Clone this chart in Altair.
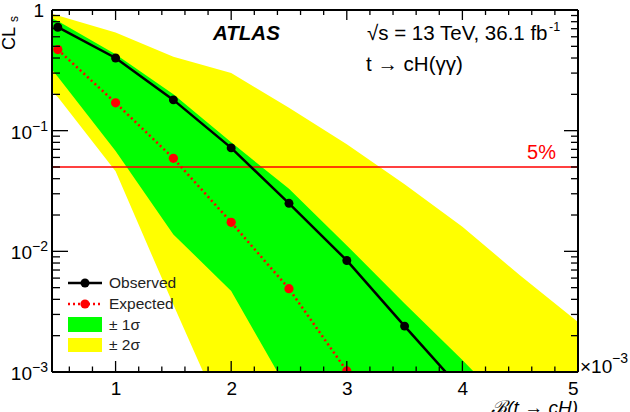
import altair as alt
import pandas as pd

# ---------------- data ----------------
obs_x = [0.5, 1.0, 1.5, 2.0, 2.5, 3.0, 3.5, 4.0]
obs_y = [0.72, 0.40, 0.18, 0.072, 0.025, 0.0084, 0.0024, 0.0007]

exp_x = [0.5, 1.0, 1.5, 2.0, 2.5, 3.0]
exp_y = [0.47, 0.17, 0.059, 0.0174, 0.0049, 0.00102]

band_x = [0.45, 0.5, 1.0, 1.5, 2.0, 2.5, 3.0, 3.5, 4.0, 4.5, 5.0]
g_lo = [0.32, 0.28, 0.068, 0.0138, 0.0047, 0.00068, 0.0001, 2e-5, 5e-6, 1e-6, 3e-7]
g_hi = [0.85, 0.81, 0.43, 0.20, 0.08, 0.033, 0.0112, 0.0037, 0.00126, 0.0004, 0.00013]
y2_lo = [0.21, 0.19, 0.046, 0.0036, 0.0003, 5e-5, 1e-5, 2e-6, 5e-7, 1e-7, 3e-8]
y2_hi = [0.93, 0.90, 0.65, 0.41, 0.30, 0.155, 0.077, 0.036, 0.016, 0.0063, 0.0026]

cl_threshold = 0.05

x_major = [1, 2, 3, 4, 5]
x_minor = [0.6, 0.8, 1.2, 1.4, 1.6, 1.8, 2.2, 2.4, 2.6, 2.8, 3.2, 3.4, 3.6, 3.8,
           4.2, 4.4, 4.6, 4.8]
y_major = [0.001, 0.01, 0.1, 1.0]
y_minor = [m * d for d in (0.001, 0.01, 0.1) for m in range(2, 10)]
y_label_vals = [0.001, 0.01, 0.1]
y_label_base = ["10", "10", "10"]
y_label_exp = ["\u22123", "\u22122", "\u22121"]

# ---------------- layout ----------------
W, H = 526, 362
FONT = "Liberation Sans"

x_scale = alt.Scale(domain=[0.45, 5], nice=False, zero=False)
y_scale = alt.Scale(type="log", domain=[0.001, 1], nice=False)
x_axis = alt.Axis(values=x_major, title=None, domain=False, ticks=False, grid=False,
                  labelFontSize=19, labelFont=FONT, labelColor="black",
                  labelPadding=7, format="d")


def X(f):
    return alt.X(f, type="quantitative", scale=x_scale, axis=x_axis)


def Y(f):
    return alt.Y(f, type="quantitative", scale=y_scale, axis=None)


one = pd.DataFrame({"k": [0]})

bands = pd.DataFrame({"x": band_x, "glo": g_lo, "ghi": g_hi, "ylo": y2_lo, "yhi": y2_hi})
obs = pd.DataFrame({"x": obs_x, "y": obs_y})
exp = pd.DataFrame({"x": exp_x, "y": exp_y})

yellow = alt.Chart(bands).mark_area(color="#FFFF00", clip=True).encode(
    x=X("x"), y=Y("ylo"), y2="yhi")
green = alt.Chart(bands).mark_area(color="#00FF00", clip=True).encode(
    x=X("x"), y=Y("glo"), y2="ghi")

five = alt.Chart(one).mark_rule(color="#FF0000", strokeWidth=1.6).encode(
    y=alt.Y(datum=cl_threshold, type="quantitative", scale=y_scale, axis=None),
    x=alt.value(0), x2=alt.value(W))

obs_line = alt.Chart(obs).mark_line(color="black", strokeWidth=2.5, clip=True).encode(
    x=X("x"), y=Y("y"))
obs_pts = alt.Chart(obs).mark_point(color="black", filled=True, opacity=1, size=80,
                                    clip=True).encode(x=X("x"), y=Y("y"))
exp_line = alt.Chart(exp).mark_line(color="#FF0000", strokeWidth=2.5, strokeDash=[2, 3],
                                    clip=True).encode(x=X("x"), y=Y("y"))
exp_pts = alt.Chart(exp).mark_point(color="#FF0000", filled=True, opacity=1, size=85,
                                    clip=True).encode(x=X("x"), y=Y("y"))

# ticks (ROOT style, inside, mirrored)
xmaj = pd.DataFrame({"v": x_major})
xmin = pd.DataFrame({"v": x_minor})
ymaj = pd.DataFrame({"v": y_major})
ymin = pd.DataFrame({"v": y_minor})
tk = dict(color="black", strokeWidth=1.3)
ticks = [
    alt.Chart(xmaj).mark_rule(**tk).encode(x=X("v"), y=alt.value(H), y2=alt.value(H - 11)),
    alt.Chart(xmaj).mark_rule(**tk).encode(x=X("v"), y=alt.value(0), y2=alt.value(10)),
    alt.Chart(xmin).mark_rule(**tk).encode(x=X("v"), y=alt.value(H), y2=alt.value(H - 5.5)),
    alt.Chart(xmin).mark_rule(**tk).encode(x=X("v"), y=alt.value(0), y2=alt.value(5)),
    alt.Chart(ymaj).mark_rule(**tk).encode(y=Y("v"), x=alt.value(0), x2=alt.value(16)),
    alt.Chart(ymaj).mark_rule(**tk).encode(y=Y("v"), x=alt.value(W), x2=alt.value(W - 14)),
    alt.Chart(ymin).mark_rule(**tk).encode(y=Y("v"), x=alt.value(0), x2=alt.value(8)),
    alt.Chart(ymin).mark_rule(**tk).encode(y=Y("v"), x=alt.value(W), x2=alt.value(W - 7)),
]

fr = dict(color="black", strokeWidth=2)
frame = [
    alt.Chart(one).mark_rule(**fr).encode(x=alt.value(0), x2=alt.value(W), y=alt.value(H)),
    alt.Chart(one).mark_rule(**fr).encode(x=alt.value(0), x2=alt.value(W), y=alt.value(0)),
    alt.Chart(one).mark_rule(**fr).encode(y=alt.value(0), y2=alt.value(H), x=alt.value(0)),
    alt.Chart(one).mark_rule(**fr).encode(y=alt.value(0), y2=alt.value(H), x=alt.value(W)),
]

# y tick labels
ylab = pd.DataFrame({"v": y_label_vals, "b": y_label_base, "e": y_label_exp})
ylabels = [
    alt.Chart(ylab).mark_text(font=FONT, fontSize=19, align="right", baseline="middle",
                              dy=2, color="black").encode(
        y=Y("v"), x=alt.value(-20), text="b:N"),
    alt.Chart(ylab).mark_text(font=FONT, fontSize=14, align="left", baseline="middle",
                              dy=-4, color="black").encode(
        y=Y("v"), x=alt.value(-20), text="e:N"),
    alt.Chart(one).mark_text(font=FONT, fontSize=19, align="right", baseline="middle",
                             dy=1, color="black").encode(
        y=alt.Y(datum=1.0, type="quantitative", scale=y_scale, axis=None),
        x=alt.value(-8), text=alt.value("1")),
]


def txt(s, x, y, size=19, align="left", baseline="alphabetic", color="black",
        style="normal", weight="normal", angle=0):
    kw = dict(font=FONT, fontSize=size, align=align, baseline=baseline, color=color,
              fontStyle=style, fontWeight=weight)
    if angle:
        kw["angle"] = angle
    return alt.Chart(one).mark_text(**kw).encode(
        x=alt.value(x), y=alt.value(y), text=alt.value(s))


texts = [
    txt("ATLAS", 161, 30, size=20.5, style="italic", weight="bold"),
    txt("\u221as = 13 TeV, 36.1 fb", 315, 30, size=20.5),
    txt("-1", 497, 21, size=12.5),
    txt("t \u2192 cH(\u03b3\u03b3)", 314, 61, size=20.5),
    txt("5%", 504, 149, size=20, align="right", color="#FF0000"),
    txt("\u00d710", 528, 357, baseline="middle"),
    txt("\u22123", 560, 349, size=14, baseline="middle"),
    txt("\u212c(t \u2192 cH)", W, 389, align="right", baseline="top", style="italic"),
    txt("CL", -37, 17, size=18, align="right", angle=270),
    txt("s", -34, 6, size=12, align="right", angle=270),
]

# legend
leg = [
    alt.Chart(one).mark_rule(color="black", strokeWidth=2.5).encode(
        x=alt.value(16), x2=alt.value(50), y=alt.value(273)),
    alt.Chart(one).mark_point(color="black", filled=True, opacity=1, size=80).encode(
        x=alt.value(33), y=alt.value(273)),
    alt.Chart(one).mark_rule(color="#FF0000", strokeWidth=2.5, strokeDash=[2, 3]).encode(
        x=alt.value(16), x2=alt.value(50), y=alt.value(294)),
    alt.Chart(one).mark_point(color="#FF0000", filled=True, opacity=1, size=85).encode(
        x=alt.value(33), y=alt.value(294)),
    alt.Chart(one).mark_rect(color="#00FF00").encode(
        x=alt.value(16), x2=alt.value(50), y=alt.value(307), y2=alt.value(322)),
    alt.Chart(one).mark_rect(color="#FFFF00").encode(
        x=alt.value(16), x2=alt.value(50), y=alt.value(328), y2=alt.value(342)),
    txt("Observed", 57, 273, size=15.5, baseline="middle", color="#222222"),
    txt("Expected", 57, 294, size=15.5, baseline="middle", color="#222222"),
    txt("\u00b1 1\u03c3", 57, 315, size=15.5, baseline="middle", color="#222222"),
    txt("\u00b1 2\u03c3", 57, 335, size=15.5, baseline="middle", color="#222222"),
]

chart = alt.layer(
    yellow, green, five, obs_line, obs_pts, exp_line, exp_pts,
    *ticks, *frame, *ylabels, *texts, *leg
).properties(
    width=W, height=H,
    autosize=alt.AutoSizeParams(type="none"),
    padding={"left": 52, "top": 10, "right": 52, "bottom": 40},
).configure_view(stroke=None).configure(background="white")

chart.save("out.html", embed_options={"renderer": "svg", "actions": False})
